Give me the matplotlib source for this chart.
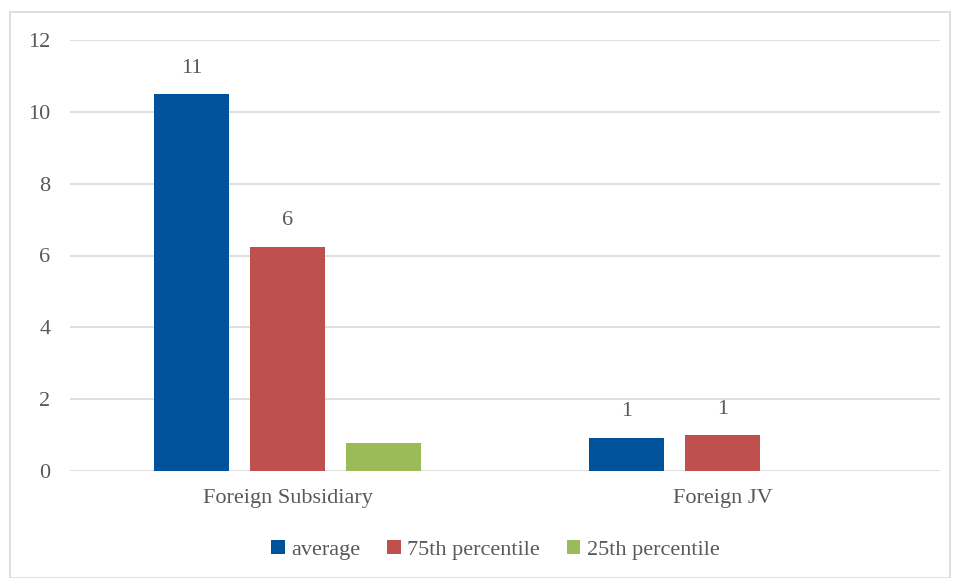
import numpy as np
import matplotlib.pyplot as plt
from matplotlib.patches import Rectangle

categories = ['Foreign Subsidiary', 'Foreign JV']
series = ['average', '75th percentile', '25th percentile']
average = [10.5, 0.93]
p75 = [6.25, 1.0]
p25 = [0.77, 0.0]
colors = ['#00539b', '#c0504d', '#9bbb59']
show_labels = [True, True, False]

plt.rcParams['font.family'] = ['Liberation Serif', 'DejaVu Serif']
txt = '#595959'
fs = 16

fig = plt.figure(figsize=(9.58, 5.78), dpi=100)
fig.patches.append(Rectangle((10 / 958, 0), 940 / 958, 566 / 578, transform=fig.transFigure,
                             fill=False, edgecolor='#d9d9d9', linewidth=1.2))
ax = fig.add_axes([70 / 958, 107 / 578, 870 / 958, 431 / 578])

x = np.arange(len(categories))
w = 0.172
step = 0.2207
for i, (vals, c, lab) in enumerate(zip([average, p75, p25], colors, series)):
    pos = x + (i - 1) * step
    bars = ax.bar(pos, vals, width=w, color=c, label=lab, zorder=3)
    if show_labels[i]:
        for b, v in zip(bars, vals):
            # excel style rounding, half goes up
            ax.text(b.get_x() + b.get_width() / 2, v + 0.45, str(int(v + 0.5)),
                    ha='center', va='bottom', fontsize=fs, color=txt)

ax.set_xlim(-0.5, 1.5)
ax.set_ylim(0, 12)
ax.set_yticks(range(0, 13, 2))
ax.set_xticks(x)
ax.set_xticklabels(categories)
ax.tick_params(axis='both', length=0, labelsize=fs, labelcolor=txt)
ax.tick_params(axis='x', pad=13)
ax.tick_params(axis='y', pad=14)
ax.grid(axis='y', color='#d9d9d9', linewidth=1.2, zorder=0)
for s in ax.spines.values():
    s.set_visible(False)

ax.legend(loc='center', bbox_to_anchor=(0.489, -0.183), ncol=3, frameon=False,
          fontsize=fs, labelcolor=txt, handlelength=0.6, handleheight=0.6,
          handletextpad=0.3, columnspacing=1.2)

fig.savefig('out.png', dpi=100)
